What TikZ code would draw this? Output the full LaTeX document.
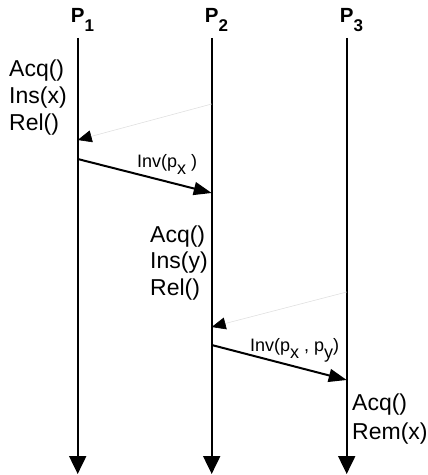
\documentclass[tikz,border=0pt]{standalone}
\usepackage{fontspec}
\setmainfont{Liberation Sans}
\usetikzlibrary{arrows.meta}

\tikzset{
  lifeline/.style={line width=2bp, -{Triangle[length=18bp,width=17bp]}},
  msg/.style={line width=2bp, -{Triangle[length=18bp,width=13bp]}},
  faint/.style={line width=0.6bp, draw=black!12, -{Triangle[length=14bp,width=12bp,color=black]}},
  proc/.style={inner sep=0pt, anchor=base, font=\fontsize{20.5bp}{20.5bp}\selectfont\bfseries},
  op/.style={inner sep=0pt, anchor=base west, font=\fontsize{23bp}{27bp}\selectfont},
  msglabel/.style={inner sep=0pt, anchor=base west, font=\fontsize{18bp}{20bp}\selectfont},
}
\newcommand{\procsub}[1]{\rlap{\raisebox{-9bp}{\fontsize{17bp}{17bp}\selectfont #1}}}
\newcommand{\msgsub}[1]{\raisebox{-7bp}{#1}}

\begin{document}
\begin{tikzpicture}[x=1bp,y=-1bp]
  \useasboundingbox (0,0) rectangle (427,475);

  % process headers
  \node[proc] (h1) at (77.7,22.7) {P\procsub{1}};
  \node[proc] (h2) at (211.7,22.7) {P\procsub{2}};
  \node[proc] (h3) at (346.7,22.7) {P\procsub{3}};

  % lifeline ends
  \coordinate (t1) at (77.7,38);   \coordinate (b1) at (77.7,474);
  \coordinate (t2) at (211.7,38);  \coordinate (b2) at (211.7,474);
  \coordinate (t3) at (346.7,38);  \coordinate (b3) at (346.7,474);

  \draw[lifeline] (t1) -- (b1);
  \draw[lifeline] (t2) -- (b2);
  \draw[lifeline] (t3) -- (b3);

  % message end points on the lifelines
  \coordinate (r1s) at (211.7,104);  \coordinate (r1e) at (77.7,140);
  \coordinate (i1s) at (77.7,159);   \coordinate (i1e) at (211.7,193);
  \coordinate (r2s) at (346.7,292);  \coordinate (r2e) at (211.7,327);
  \coordinate (i2s) at (211.7,345);  \coordinate (i2e) at (346.7,380);

  \draw[faint] (r1s) -- (r1e);
  \draw[msg] (i1s) -- (i1e);
  \draw[faint] (r2s) -- (r2e);
  \draw[msg] (i2s) -- (i2e);

  % message labels
  \node[msglabel] (l1) at (137,168) {Inv(p\msgsub{x} )};
  \node[msglabel] (l2) at (250,351) {Inv(p\msgsub{x} , p\msgsub{y})};

  % local operations of P1
  \node[op] (a1) at (9,77) {Acq()};
  \node[op] (a2) at (9,104) {Ins(x)};
  \node[op] (a3) at (9,130.5) {Rel()};

  % local operations of P2
  \node[op] (b1op) at (150,242) {Acq()};
  \node[op] (b2op) at (150,268.5) {Ins(y)};
  \node[op] (b3op) at (150,295) {Rel()};

  % local operations of P3
  \node[op] (c1op) at (352,410) {Acq()};
  \node[op] (c2op) at (352,439) {Rem(x)};
\end{tikzpicture}
\end{document}
